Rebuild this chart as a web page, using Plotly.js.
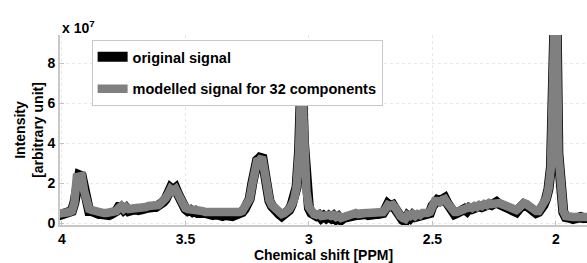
<!DOCTYPE html>
<html>
<head>
<meta charset="utf-8">
<script src="https://cdn.plot.ly/plotly-3.0.1.min.js"></script>
<style>html,body{margin:0;padding:0;background:#fff;}#chart{width:587px;height:263px;}</style>
</head>
<body>
<div id="chart"></div>
<script>
// Chemical shift axis [PPM]
var ppm = [
4.02,4.01,4.00,3.99,3.98,3.97,3.96,3.95,3.94,3.93,
3.92,3.91,3.90,3.89,3.88,3.87,3.86,3.85,3.84,3.83,
3.82,3.81,3.80,3.79,3.78,3.77,3.76,3.75,3.74,3.73,
3.72,3.71,3.70,3.69,3.68,3.67,3.66,3.65,3.64,3.63,
3.62,3.61,3.60,3.59,3.58,3.57,3.56,3.55,3.54,3.53,
3.52,3.51,3.50,3.49,3.48,3.47,3.46,3.45,3.44,3.43,
3.42,3.41,3.40,3.39,3.38,3.37,3.36,3.35,3.34,3.33,
3.32,3.31,3.30,3.29,3.28,3.27,3.26,3.25,3.24,3.23,
3.22,3.21,3.20,3.19,3.18,3.17,3.16,3.15,3.14,3.13,
3.12,3.11,3.10,3.09,3.08,3.07,3.06,3.05,3.04,3.03,
3.02,3.01,3.00,2.99,2.98,2.97,2.96,2.95,2.94,2.93,
2.92,2.91,2.90,2.89,2.88,2.87,2.86,2.85,2.84,2.83,
2.82,2.81,2.80,2.79,2.78,2.77,2.76,2.75,2.74,2.73,
2.72,2.71,2.70,2.69,2.68,2.67,2.66,2.65,2.64,2.63,
2.62,2.61,2.60,2.59,2.58,2.57,2.56,2.55,2.54,2.53,
2.52,2.51,2.50,2.49,2.48,2.47,2.46,2.45,2.44,2.43,
2.42,2.41,2.40,2.39,2.38,2.37,2.36,2.35,2.34,2.33,
2.32,2.31,2.30,2.29,2.28,2.27,2.26,2.25,2.24,2.23,
2.22,2.21,2.20,2.19,2.18,2.17,2.16,2.15,2.14,2.13,
2.12,2.11,2.10,2.09,2.08,2.07,2.06,2.05,2.04,2.03,
2.02,2.01,2.00,1.99,1.98,1.97,1.96,1.95,1.94,1.93,
1.92,1.91,1.90,1.89,1.88,1.87
];

// Intensity, in units of 1e7
var originalSignal = [
0.35,0.4,0.45,0.4,0.45,0.5,0.6,1.0,2.35,2.4,
2.35,1.6,0.85,0.6,0.6,0.5,0.5,0.45,0.45,0.4,
0.45,0.4,0.45,0.5,0.6,0.8,0.8,0.65,0.75,0.6,
0.65,0.6,0.7,0.65,0.75,0.7,0.75,0.8,0.75,0.8,
0.8,0.85,0.95,1.05,1.2,1.45,1.75,1.65,1.75,1.45,
1.1,0.85,0.7,0.6,0.65,0.55,0.6,0.5,0.55,0.5,
0.5,0.45,0.5,0.4,0.45,0.4,0.4,0.35,0.4,0.35,
0.4,0.35,0.4,0.45,0.45,0.55,0.7,0.9,1.2,1.95,
3.0,3.15,3.25,3.4,2.6,1.6,1.1,0.85,0.65,0.6,
0.45,0.35,0.45,0.5,0.65,0.9,1.2,1.8,3.6,7.6,
4.0,1.6,0.75,0.5,0.35,0.35,0.4,0.25,0.35,0.25,
0.35,0.25,0.35,0.2,0.3,0.15,0.25,0.3,0.3,0.3,
0.4,0.4,0.4,0.45,0.4,0.45,0.4,0.45,0.4,0.45,
0.45,0.45,0.5,0.7,0.95,0.85,0.9,0.7,0.45,0.25,
0.15,0.1,0.35,0.25,0.4,0.3,0.35,0.35,0.45,0.4,
0.45,0.5,0.85,1.15,1.15,1.1,1.2,1.25,1.0,0.75,
0.6,0.45,0.5,0.55,0.65,0.7,0.6,0.75,0.7,0.8,
0.75,0.85,0.8,0.9,0.85,0.95,0.9,1.0,1.05,0.95,
0.9,0.85,0.75,0.75,0.65,0.65,0.55,0.7,0.85,0.95,
0.9,0.8,0.65,0.6,0.5,0.55,0.7,0.9,1.2,1.7,
2.8,8.0,13.0,3.5,1.5,0.55,0.3,0.2,0.25,0.2,
0.25,0.2,0.3,0.25,0.2,0.25
];

var modelledSignal = [
0.45,0.45,0.5,0.5,0.5,0.55,0.6,1.0,2.3,2.35,
2.35,1.6,0.9,0.7,0.65,0.6,0.55,0.55,0.5,0.5,
0.5,0.5,0.5,0.55,0.6,0.75,0.85,0.7,0.8,0.7,
0.7,0.7,0.75,0.75,0.8,0.8,0.8,0.85,0.85,0.85,
0.85,0.9,1.0,1.1,1.25,1.45,1.7,1.6,1.7,1.45,
1.15,0.9,0.75,0.7,0.7,0.65,0.65,0.6,0.6,0.6,
0.55,0.55,0.55,0.5,0.5,0.5,0.45,0.45,0.45,0.45,
0.45,0.45,0.45,0.5,0.55,0.6,0.75,0.9,1.2,1.9,
2.9,3.1,3.15,3.3,2.6,1.6,1.15,0.9,0.75,0.65,
0.55,0.45,0.5,0.55,0.7,0.9,1.2,1.8,3.6,7.5,
4.0,1.6,0.8,0.55,0.45,0.4,0.45,0.35,0.4,0.35,
0.4,0.35,0.4,0.3,0.35,0.25,0.3,0.35,0.4,0.35,
0.45,0.5,0.45,0.5,0.5,0.5,0.5,0.5,0.5,0.5,
0.5,0.5,0.55,0.7,0.9,0.85,0.9,0.75,0.5,0.35,
0.25,0.2,0.4,0.35,0.45,0.35,0.45,0.4,0.5,0.45,
0.5,0.55,0.85,1.1,1.1,1.05,1.15,1.2,1.0,0.8,
0.65,0.55,0.55,0.6,0.7,0.75,0.7,0.8,0.75,0.85,
0.8,0.9,0.85,0.95,0.9,1.0,0.95,1.0,1.05,1.0,
0.95,0.9,0.85,0.8,0.75,0.7,0.65,0.75,0.9,1.0,
0.95,0.85,0.75,0.65,0.6,0.6,0.75,0.9,1.2,1.7,
2.8,8.0,13.0,3.5,1.5,0.6,0.35,0.3,0.3,0.3,
0.3,0.3,0.35,0.3,0.3,0.3
];

var seriesNames = ['original signal', 'modelled signal for 32 components'];
var xTickVals = [4, 3.5, 3, 2.5, 2];
var xTickText = ['4', '3.5', '3', '2.5', '2'];
var yTickVals = [0, 2, 4, 6, 8];
var yTickText = ['0', '2', '4', '6', '8'];

var FONT = 'Liberation Sans, Arial, Helvetica, sans-serif';

var traces = [
  {x: ppm, y: originalSignal, type: 'scatter', mode: 'lines', name: seriesNames[0],
   legendgroup: 'a', line: {color: '#000000', width: 10}},
  {x: ppm, y: modelledSignal, type: 'scatter', mode: 'lines', name: seriesNames[1],
   legendgroup: 'b', line: {color: '#808080', width: 8.5}}
];

var layout = {
  width: 587, height: 263,
  margin: {l: 60, r: 0, t: 35, b: 38, pad: 0},
  paper_bgcolor: '#ffffff', plot_bgcolor: '#ffffff',
  font: {family: FONT, size: 14, color: '#000', weight: 'bold'},
  showlegend: true,
  legend: {
    x: 0.06, y: 0.974, xanchor: 'left', yanchor: 'top',
    bgcolor: '#ffffff', bordercolor: '#c8c8c8', borderwidth: 1,
    font: {family: FONT, size: 14.5, color: '#000', weight: 'bold'},
    tracegroupgap: 10, traceorder: 'grouped', itemwidth: 30
  },
  xaxis: {
    range: [4.008, 1.874], autorange: false,
    tickvals: xTickVals, ticktext: xTickText,
    showgrid: true, gridcolor: '#e8e8e8', griddash: 'dot', gridwidth: 1,
    zeroline: false, showline: true, linecolor: '#c8c8c8', linewidth: 2,
    ticks: 'inside', ticklen: 4, tickcolor: '#c0c0c0',
    tickfont: {family: FONT, size: 14, color: '#000', weight: 'bold'},
    title: {text: 'Chemical shift [PPM]', standoff: 8,
            font: {family: FONT, size: 14, color: '#000', weight: 'bold'}}
  },
  yaxis: {
    range: [-0.1, 9.42], autorange: false,
    tickvals: yTickVals, ticktext: yTickText,
    showgrid: true, gridcolor: '#e8e8e8', griddash: 'dot', gridwidth: 1,
    zeroline: false, showline: true, linecolor: '#c8c8c8', linewidth: 2,
    ticks: 'inside', ticklen: 4, tickcolor: '#c0c0c0',
    tickfont: {family: FONT, size: 14, color: '#000', weight: 'bold'},
    title: {text: 'Intensity<br>[arbitrary unit]', standoff: 0,
            font: {family: FONT, size: 14, color: '#000', weight: 'bold'}}
  },
  annotations: [{
    xref: 'paper', yref: 'paper', x: 0, y: 1.042, xanchor: 'left', yanchor: 'middle',
    text: 'x 10<sup>7</sup>', showarrow: false,
    font: {family: FONT, size: 14, color: '#000', weight: 'bold'}
  }]
};

Plotly.newPlot('chart', traces, layout, {displayModeBar: false, staticPlot: true});
</script>
</body>
</html>
